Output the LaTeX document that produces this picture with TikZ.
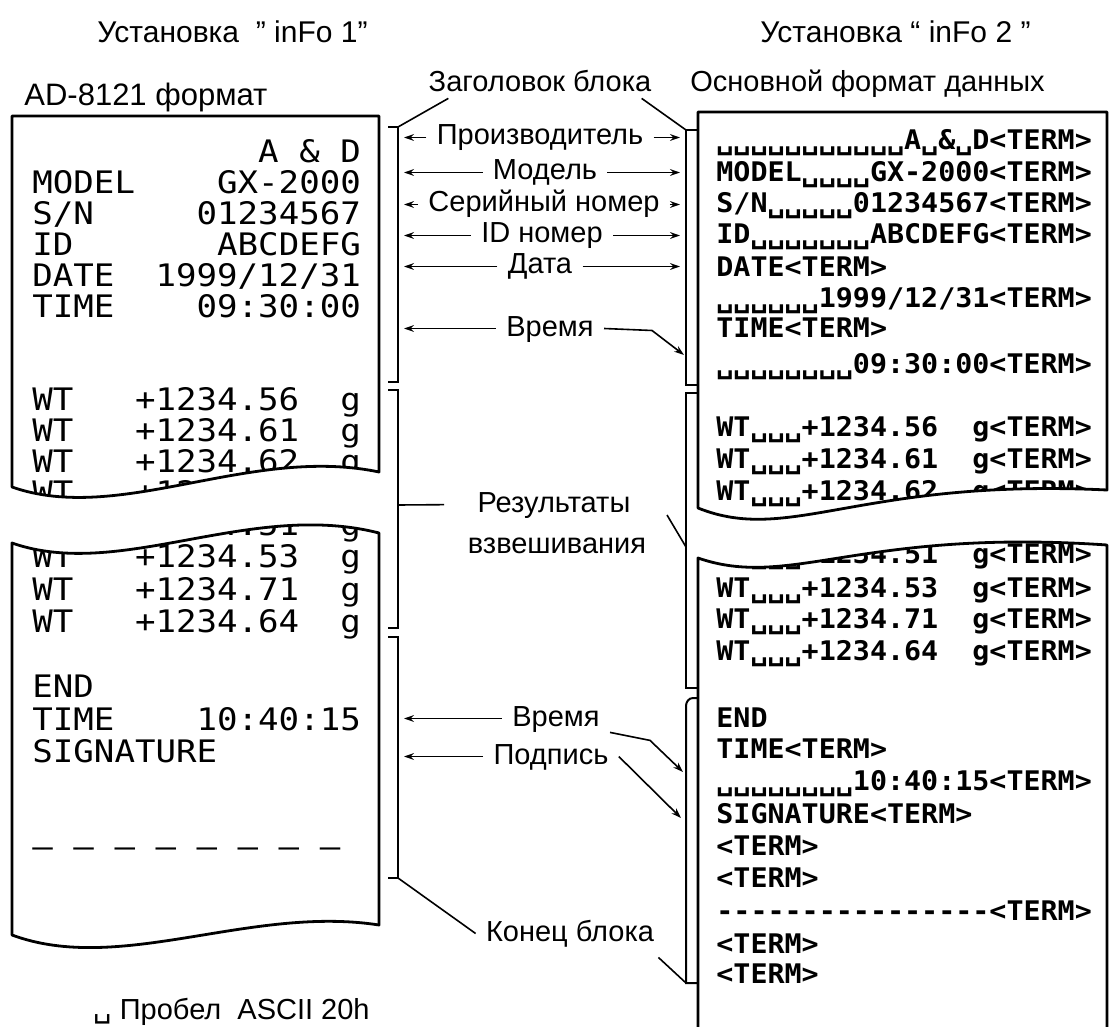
\documentclass[tikz,border=0pt]{standalone}
\usepackage{fontspec}
\setmainfont{Liberation Sans}
\newfontfamily\prnfont[FakeStretch=1.1]{DejaVu Sans Mono}
\newfontfamily\termfont[FakeStretch=1.05]{DejaVu Sans Mono}
\newfontfamily\symfont{DejaVu Sans}
\usetikzlibrary{arrows.meta, positioning, calc}

\begin{document}
\begin{tikzpicture}[
  x=0.5pt, y=-0.5pt,
  paper/.style={line width=1.4pt, line join=round},
  brk/.style={line width=1pt},
  link/.style={line width=0.8pt},
  arr/.style={-{Stealth[length=5pt,width=3.4pt]}, line width=0.8pt},
  lbl/.style={font=\fontsize{14.5}{17}\selectfont, text height=10.5pt, text depth=3pt, inner xsep=5pt, inner ysep=0pt},
  ttl/.style={font=\fontsize{15}{18}\selectfont, anchor=base west, inner sep=0pt},
  prnA/.style={font=\prnfont\fontsize{15.5}{18}\selectfont, anchor=base west, inner sep=0pt},
  prnB/.style={font=\termfont\bfseries\fontsize{13.5}{16}\selectfont, anchor=base west, inner sep=0pt},
]
\path[use as bounding box, fill=white] (0,0) rectangle (1109,1027);

% titles
\node[ttl] (setA) at (97,43)  {Установка~~” inFo 1”};
\node[ttl] (setB) at (760,43) {Установка “ inFo 2 ”};
\node[lbl, anchor=base west, inner sep=0pt, font=\fontsize{15.5}{18}\selectfont] (fmtA) at (24,106) {AD-8121 формат};
\node[lbl, anchor=base west, inner sep=0pt] (fmtB) at (690,92) {Основной формат данных};
\node[lbl, anchor=base, inner xsep=0pt]     (hdr)  at (540,92) {Заголовок блока};

% printout, inFo 1
\begin{scope}
\clip (12,116) -- (379,116) -- (379,472) .. controls (250,445) and (120,525) .. (12,487) -- cycle;
\node[prnA] (mkA)  at (32,163) {~~~~~~~~~~~A~\&~D};
\node[prnA] (mdA)  at (32,194) {MODEL~~~~GX-2000};
\node[prnA] (snA)  at (32,225) {S/N~~~~~01234567};
\node[prnA] (idA)  at (32,256) {ID~~~~~~~ABCDEFG};
\node[prnA] (dtA)  at (32,287) {DATE~~1999/12/31};
\node[prnA] (tmA)  at (32,318) {TIME~~~~09:30:00};
\node[prnA] (wA1)  at (32,410) {WT~~~+1234.56~~g};
\node[prnA] (wA2)  at (32,441) {WT~~~+1234.61~~g};
\node[prnA] (wA3)  at (32,472) {WT~~~+1234.62~~g};
\node[prnA] (wA4)  at (32,503) {WT~~~+1234.58~~g};
\end{scope}
\draw[paper] (12,116) -- (379,116) -- (379,472) .. controls (250,445) and (120,525) .. (12,487) -- cycle;

\begin{scope}
\clip (12,543) .. controls (120,581) and (250,500) .. (379,533) -- (379,925) .. controls (250,905) and (120,975) .. (12,935) -- cycle;
\node[prnA] (wA5)  at (32,535) {WT~~~+1234.51~~g};
\node[prnA] (wA6)  at (32,567) {WT~~~+1234.53~~g};
\node[prnA] (wA7)  at (32,600) {WT~~~+1234.71~~g};
\node[prnA] (wA8)  at (32,632) {WT~~~+1234.64~~g};
\node[prnA] (endA) at (32,697) {END};
\node[prnA] (teA)  at (32,730) {TIME~~~~10:40:15};
\node[prnA] (sgA)  at (32,762) {SIGNATURE};
\node[prnA] (lnA)  at (32,857) {–~–~–~–~–~–~–~–};
\end{scope}
\draw[paper] (12,543) .. controls (120,581) and (250,500) .. (379,533) -- (379,925) .. controls (250,905) and (120,975) .. (12,935) -- cycle;

% printout, inFo 2
\begin{scope}
\clip (698,112) -- (1107,112) -- (1107,490) .. controls (860,478) and (790,545) .. (698,508) -- cycle;
\node[prnB] (mkB)  at (716,150) {␣␣␣␣␣␣␣␣␣␣␣A␣\&␣D<TERM>};
\node[prnB] (mdB)  at (716,182) {MODEL␣␣␣␣GX-2000<TERM>};
\node[prnB] (snB)  at (716,213) {S/N␣␣␣␣␣01234567<TERM>};
\node[prnB] (idB)  at (716,244) {ID␣␣␣␣␣␣␣ABCDEFG<TERM>};
\node[prnB] (dtB)  at (716,277) {DATE<TERM>};
\node[prnB] (dvB)  at (716,307) {␣␣␣␣␣␣1999/12/31<TERM>};
\node[prnB] (tmB)  at (716,338) {TIME<TERM>};
\node[prnB] (tvB)  at (716,373) {␣␣␣␣␣␣␣␣09:30:00<TERM>};
\node[prnB] (wB1)  at (716,437) {WT␣␣␣+1234.56~~g<TERM>};
\node[prnB] (wB2)  at (716,468) {WT␣␣␣+1234.61~~g<TERM>};
\node[prnB] (wB3)  at (716,500) {WT␣␣␣+1234.62~~g<TERM>};
\end{scope}
\draw[paper] (698,112) -- (1107,112) -- (1107,490) .. controls (860,478) and (790,545) .. (698,508) -- cycle;

\begin{scope}
\clip (698,558) .. controls (790,590) and (860,528) .. (1109,545) -- (1109,1040) -- (698,1040) -- cycle;
\node[prnB] (wB5)  at (716,563) {WT␣␣␣+1234.51~~g<TERM>};
\node[prnB] (wB6)  at (716,597) {WT␣␣␣+1234.53~~g<TERM>};
\node[prnB] (wB7)  at (716,628) {WT␣␣␣+1234.71~~g<TERM>};
\node[prnB] (wB8)  at (716,660) {WT␣␣␣+1234.64~~g<TERM>};
\node[prnB] (endB) at (716,727) {END};
\node[prnB] (teB)  at (716,758) {TIME<TERM>};
\node[prnB] (tvB2) at (716,790) {␣␣␣␣␣␣␣␣10:40:15<TERM>};
\node[prnB] (sgB)  at (716,823) {SIGNATURE<TERM>};
\node[prnB] (t1B)  at (716,855) {<TERM>};
\node[prnB] (t2B)  at (716,887) {<TERM>};
\node[prnB] (lnB)  at (716,920) {----------------<TERM>};
\node[prnB] (t3B)  at (716,953) {<TERM>};
\node[prnB] (t4B)  at (716,983) {<TERM>};
\end{scope}
\draw[paper] (1107,1040) -- (1107,545) .. controls (860,528) and (790,590) .. (698,558) -- (698,1040);

% brackets
\draw[brk] (388,127) -- (398,127) -- (398,382) -- (388,382);
\draw[brk] (388,390) -- (398,390) -- (398,628) -- (388,628);
\draw[brk] (388,637) -- (398,637) -- (398,878) -- (388,878);
\draw[brk] (697,130) -- (686,130) -- (686,385) -- (697,385);
\draw[brk] (697,393) -- (686,393) -- (686,688) -- (697,688);
\draw[brk] (697,698) -- (693,698) to[out=180,in=90] (686,706) -- (686,983) -- (697,983);

\coordinate (bl)  at (398,0);
\coordinate (br)  at (686,0);
\coordinate (lbt) at (398,127);
\coordinate (rbt) at (686,130);
\coordinate (lbm) at (398,505);
\coordinate (rbm) at (686,547);
\coordinate (lbb) at (398,878);
\coordinate (rbb) at (686,983);
\coordinate (resR) at (667,515);
\coordinate (rtA) at (684,355);
\coordinate (rtB) at (683,772);
\coordinate (rsg) at (681,818);

% labels
\node[lbl, anchor=base] (maker)  at (540,145) {Производитель};
\node[lbl, anchor=base] (model)  at (545,180) {Модель};
\node[lbl, anchor=base] (serial) at (544,212) {Серийный номер};
\node[lbl, anchor=base] (idno)   at (542,243) {ID номер};
\node[lbl, anchor=base] (date)   at (540,274) {Дата};
\node[lbl, anchor=base] (timeA)  at (550,336) {Время};
\node[lbl, anchor=base] (resA)   at (554,512) {Результаты};
\node[lbl, anchor=base] (resB)   at (557,553) {взвешивания};
\node[lbl, anchor=base] (timeB)  at (556,726) {Время};
\node[lbl, anchor=base] (sign)   at (551,764) {Подпись};
\node[lbl, anchor=base] (endblk) at (570,941) {Конец блока};

% connectors
\draw[link] ([xshift=10pt]hdr.south west) -- (lbt);
\draw[link] ([xshift=-5pt]hdr.south east) -- (rbt);
\draw[arr, shorten >=3pt] (maker.west)  -- (maker.west -| bl);
\draw[arr, shorten >=3pt] (maker.east)  -- (maker.east -| br);
\draw[arr, shorten >=3pt] (model.west)  -- (model.west -| bl);
\draw[arr, shorten >=3pt] (model.east)  -- (model.east -| br);
\draw[arr, shorten >=3pt] (serial.west) -- (serial.west -| bl);
\draw[arr, shorten >=3pt] (serial.east) -- (serial.east -| br);
\draw[arr, shorten >=3pt] (idno.west)   -- (idno.west -| bl);
\draw[arr, shorten >=3pt] (idno.east)   -- (idno.east -| br);
\draw[arr, shorten >=3pt] (date.west)   -- (date.west -| bl);
\draw[arr, shorten >=3pt] (date.east)   -- (date.east -| br);
\draw[arr, shorten >=3pt] (timeA.west)  -- (timeA.west -| bl);
\draw[arr] (timeA.east) -- ++(48,2) -- (rtA);
\draw[link, shorten >=11.5pt] (lbm) -- (resA.west);
\draw[link] (resR) -- (rbm);
\draw[arr, shorten >=3pt] (timeB.west)  -- (timeB.west -| bl);
\draw[arr] (timeB.south east) -- ++(40,8) -- (rtB);
\draw[arr, shorten >=3pt] (sign.west)   -- (sign.west -| bl);
\draw[arr] (sign.east) -- (rsg);
\draw[link] (lbb) -- (endblk.west);
\draw[link] ([xshift=-3pt,yshift=-5pt]endblk.south east) -- (rbb);

% legend
\node[lbl, anchor=base west, inner sep=0pt] (space) at (93,1019) {\raisebox{1pt}{\symfont ␣}~Пробел~~ASCII 20h};
\end{tikzpicture}
\end{document}
